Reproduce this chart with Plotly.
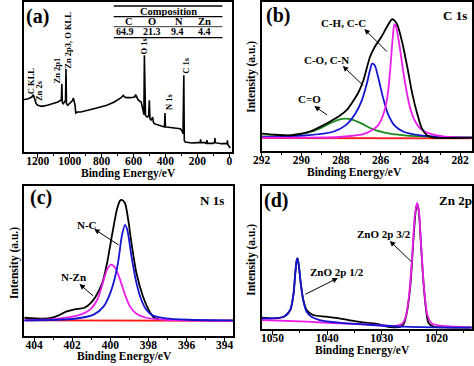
import plotly.graph_objects as go

W, H = 474, 366
FONT = "Liberation Serif"

# ---------------- Panel (a): survey spectrum ----------------
a_be = [1288, 1260, 1237, 1228, 1220, 1210, 1200, 1175, 1140, 1114, 1090, 1073, 1057,
        1052, 1049, 1046, 1040, 1032, 1026, 1023, 1020, 1012, 1000, 990, 981, 977, 972,
        966, 962, 950, 930, 880, 830, 767, 720, 680, 664, 655, 644, 620, 600, 593, 587,
        580, 572, 560, 552, 545, 540, 535, 532, 529, 525, 515, 511, 505, 501, 497, 491,
        485, 480, 476, 470, 440, 419, 406, 403, 400, 395, 358, 320, 307, 295, 290, 285,
        282, 276, 235, 200, 182, 180, 178, 153, 143, 140, 137, 100, 92, 90, 88, 51, 30,
        14, 12, 9, -6]
a_int = [157, 160, 165, 172, 160, 145, 140, 137, 140, 143, 148, 150, 155,
         156, 205, 148, 145, 150, 155, 250, 145, 140, 145, 150, 155, 162, 150,
         140, 117, 120, 120, 125, 132, 140, 150, 162, 170, 165, 163, 163, 165, 165, 172,
         162, 157, 152, 150, 135, 120, 112, 290, 110, 110, 105, 105, 110, 155, 100, 95,
         100, 105, 90, 85, 80, 77, 75, 117, 76, 75, 73, 72, 70, 62, 55, 230,
         35, 30, 27, 28, 28, 38, 28, 28, 26, 36, 26, 26, 30, 42, 28, 25, 24,
         25, 35, 22, 12]
a_ticks = [1200, 1000, 800, 600, 400, 200, 0]
a_peak_labels = ["C KLL", "Zn 2s", "Zn 2p1", "Zn 2p3, O KLL", "O 1s", "N 1s", "C 1s"]
comp_elements = ["C", "O", "N", "Zn"]
comp_values = ["64.9", "21.3", "9.4", "4.4"]

# ---------------- Panel (b): C 1s ----------------
b_raw_be = [292.0, 291.38, 290.56, 289.98, 289.49, 289.0, 288.59, 288.10, 287.69, 287.36,
            287.11, 286.87, 286.54, 286.30, 285.97, 285.64, 285.44, 285.31, 285.15, 284.90,
            284.66, 284.41, 284.16, 283.92, 283.67, 283.34, 282.36, 281.41]
b_raw_int = [52, 49, 47, 52, 60, 74, 87, 104, 124, 152, 177, 212, 282, 312, 342, 377,
             395, 392, 377, 322, 252, 172, 112, 67, 47, 40, 39, 40]
b_co_be = [292.0, 290.56, 289.74, 289.08, 288.59, 288.10, 287.77, 287.44, 286.95, 286.46,
           285.80, 284.82, 283.18, 281.41]
b_co_int = [44, 47, 54, 67, 82, 94, 97, 94, 82, 67, 55, 47, 42, 40]
b_con_be = [292.0, 289.74, 288.43, 287.77, 287.28, 286.95, 286.70, 286.54, 286.43, 286.30,
            286.13, 285.89, 285.64, 285.31, 284.82, 284.0, 282.85, 281.41]
b_con_int = [42, 47, 57, 77, 112, 152, 202, 242, 262, 257, 222, 162, 112, 77, 57, 47, 42, 40]
b_cc_be = [292.0, 288.10, 286.79, 286.13, 285.80, 285.64, 285.51, 285.39, 285.31, 285.23,
           285.07, 284.82, 284.57, 284.33, 284.0, 283.51, 282.85, 281.41]
b_cc_int = [40, 42, 52, 77, 122, 172, 252, 342, 380, 374, 322, 222, 142, 97, 67, 52, 44, 40]
b_bg_be = [292.0, 281.41]
b_bg_int = [39, 38]
b_ticks = [292, 290, 288, 286, 284, 282]

# ---------------- Panel (c): N 1s ----------------
c_raw_be = [404.51, 403.57, 403.06, 402.72, 402.38, 401.87, 401.36, 401.02, 400.76, 400.42,
            400.17, 400.0, 399.83, 399.66, 399.49, 399.40, 399.23, 399.06, 398.89, 398.63,
            398.29, 397.95, 397.70, 397.44]
c_raw_int = [55, 52, 55, 62, 72, 80, 85, 100, 120, 160, 220, 275, 330, 380, 408, 410,
             400, 350, 280, 190, 120, 75, 55, 50]
c_nc_be = [404.51, 401.87, 400.85, 400.34, 400.0, 399.74, 399.57, 399.40, 399.23, 399.11,
           398.89, 398.63, 398.38, 398.12, 397.78, 397.10, 395.91, 393.56]
c_nc_int = [47, 52, 65, 90, 130, 180, 230, 300, 335, 320, 240, 160, 110, 80, 62, 53, 49, 47]
c_nzn_be = [404.51, 402.72, 401.53, 401.02, 400.68, 400.42, 400.17, 399.96, 399.74, 399.49,
            399.23, 398.98, 398.63, 398.12, 397.10, 393.56]
c_nzn_int = [47, 52, 65, 82, 110, 155, 200, 215, 205, 170, 125, 90, 67, 55, 49, 46]
c_bg_be = [404.51, 393.56]
c_bg_int = [47, 46]
c_ticks = [404, 402, 400, 398, 396, 394]

# ---------------- Panel (d): Zn 2p ----------------
d_raw_be = [1051.96, 1049.70, 1047.92, 1046.73, 1046.14, 1045.84, 1045.54, 1045.42, 1045.19,
            1044.83, 1044.36, 1043.76, 1042.57, 1040.20, 1037.82, 1035.44, 1033.07, 1030.69,
            1029.50, 1027.72, 1026.53, 1025.94, 1025.34, 1024.75, 1024.27, 1023.86, 1023.56,
            1023.26, 1022.85, 1022.37, 1021.90, 1021.48, 1020.59, 1018.81, 1015.24, 1013.58]
d_raw_int = [34, 32, 37, 57, 107, 167, 209, 212, 192, 137, 87, 57, 42, 37, 32, 25, 19, 15,
             9, 5, 7, 17, 57, 137, 257, 347, 377, 357, 257, 137, 57, 19, 7, 5, 4, 5]
d_p12_be = [1051.96, 1047.92, 1046.73, 1046.14, 1045.84, 1045.54, 1045.42, 1045.19, 1044.83,
            1044.36, 1043.76, 1042.87, 1041.38, 1037.82, 1031.88, 1025.94, 1020.0, 1013.58]
d_p12_int = [32, 37, 59, 107, 165, 209, 212, 192, 137, 85, 52, 37, 27, 19, 12, 7, 5, 4]
d_p32_be = [1051.96, 1043.76, 1037.82, 1031.88, 1027.72, 1026.23, 1025.64, 1025.04, 1024.45,
            1023.98, 1023.56, 1023.20, 1022.79, 1022.25, 1021.66, 1020.89, 1018.81, 1013.58]
d_p32_int = [27, 22, 17, 13, 9, 17, 37, 97, 217, 337, 379, 352, 247, 117, 42, 17, 9, 5]
d_ticks = [1050, 1040, 1030, 1020]

BLACK = "#000000"
BLUE = "#1414d2"
MAGENTA = "#ec1cec"
GREEN = "#1c8a1c"
RED = "#ff1a1a"


def px(x, y):
    return x / W, 1 - y / H


fig = go.Figure()


def add_line(xs, ys, color, axis, width=1.8, shape="spline"):
    fig.add_trace(go.Scatter(x=xs, y=ys, mode="lines",
                             line=dict(color=color, width=width, shape=shape,
                                       smoothing=0.7 if shape == "spline" else None),
                             xaxis="x" + axis, yaxis="y" + axis, showlegend=False,
                             hoverinfo="skip"))


# panel a
add_line(a_be, a_int, BLACK, "", width=1.6, shape="linear")
# panel b
add_line(b_bg_be, b_bg_int, RED, "2")
add_line(b_co_be, b_co_int, GREEN, "2")
add_line(b_con_be, b_con_int, BLUE, "2")
add_line(b_cc_be, b_cc_int, MAGENTA, "2")
add_line(b_raw_be, b_raw_int, BLACK, "2")
# panel c
add_line(c_bg_be, c_bg_int, RED, "3")
add_line(c_raw_be, c_raw_int, BLACK, "3")
add_line(c_nzn_be, c_nzn_int, MAGENTA, "3")
add_line(c_nc_be, c_nc_int, BLUE, "3")
# panel d
add_line(d_raw_be, d_raw_int, BLACK, "4")
add_line(d_p32_be, d_p32_int, MAGENTA, "4")
add_line(d_p12_be, d_p12_int, BLUE, "4")

tickfont = dict(family=FONT, size=11.5, color="black", weight="bold")


def xaxis(dom, rng, ticks, minor, anchor):
    return dict(domain=dom, range=rng, tickvals=ticks, ticks="outside", ticklen=4,
                tickwidth=1.3, tickcolor="black", showline=True, linecolor="black",
                linewidth=1.5, mirror=True, showgrid=False, zeroline=False,
                tickfont=tickfont, anchor=anchor, ticklabelstandoff=-7,
                minor=dict(ticks="outside", ticklen=2.5, tickwidth=1, tickcolor="black",
                           dtick=minor, showgrid=False))


def yaxis(dom, rng, anchor):
    return dict(domain=dom, range=rng, showticklabels=False, ticks="", showline=True,
                linecolor="black", linewidth=1.5, mirror=True, showgrid=False,
                zeroline=False, anchor=anchor)


fig.update_layout(
    width=W, height=H, margin=dict(l=0, r=0, t=0, b=0),
    paper_bgcolor="white", plot_bgcolor="white",
    xaxis=xaxis([15 / W, 228 / W], [1288, -18], a_ticks, 100, "y"),
    yaxis=yaxis([1 - 152 / H, 1 - 2 / H], [0, 450], "x"),
    xaxis2=xaxis([258 / W, 473 / W], [292, 281.4], b_ticks, 1, "y2"),
    yaxis2=yaxis([1 - 151 / H, 1 - 2 / H], [0, 447], "x2"),
    xaxis3=xaxis([15 / W, 229 / W], [404.55, 393.55], c_ticks, 1, "y3"),
    yaxis3=yaxis([1 - 336 / H, 1 - 186 / H], [0, 452], "x3"),
    xaxis4=xaxis([258 / W, 473 / W], [1052, 1013.5], d_ticks, 5, "y4"),
    yaxis4=yaxis([1 - 329 / H, 1 - 186 / H], [0, 430], "x4"),
)

ann = []


def text(t, x, y, size, angle=0, bold=True):
    xx, yy = px(x, y)
    ann.append(dict(text=t, x=xx, y=yy, xref="paper", yref="paper", showarrow=False,
                    xanchor="center", yanchor="middle", textangle=angle,
                    font=dict(family=FONT, size=size, color="black",
                              weight="bold" if bold else "normal")))


def arrow(hx, hy, tx, ty):
    xx, yy = px(hx, hy)
    ann.append(dict(text="", x=xx, y=yy, xref="paper", yref="paper", showarrow=True,
                    ax=tx - hx, ay=ty - hy, axref="pixel", ayref="pixel",
                    arrowhead=2, arrowsize=1.1, arrowwidth=1, arrowcolor="black"))


# panel labels
text("(a)", 29, 16, 20)
text("(b)", 275, 15, 20)
text("(c)", 33, 197, 20)
text("(d)", 273, 200, 20)
text("C 1s", 456, 15, 13)
text("N 1s", 207, 200, 13)
text("Zn 2p", 456, 200, 13)

# axis titles
for x, y in [(122, 173), (353, 172.5), (118, 356.5), (361, 350.5)]:
    text("Binding Energy/eV", x, y, 11.5)
for x, y in [(247, 77), (5, 263), (247, 260)]:
    text("Intensity (a.u.)", x, y, 11.5, angle=-90)

# panel (a) peak labels
a_label_pos = [(22.7, 81), (30.7, 91), (49, 70.5), (60, 40), (138, 46.5), (163, 101.5), (180, 65.5)]
for lab, (x, y) in zip(a_peak_labels, a_label_pos):
    text(lab, x, y, 8.5, angle=-90)

# composition table
text("Composition", 163, 11, 10.5)
for el, xv in zip(comp_elements, [123, 146, 174, 200]):
    text(el, xv, 21.7, 10.5)
for v, xv in zip(comp_values, [118, 146, 172, 200]):
    text(v, xv, 32, 10)

shapes = []
for yv, w in [(6, 1.3), (16.7, 1.2), (26.7, 0.8), (37.7, 1.3)]:
    x0, y0 = px(107, yv)
    x1, _ = px(218, yv)
    shapes.append(dict(type="line", xref="paper", yref="paper", x0=x0, x1=x1, y0=y0, y1=y0,
                       line=dict(color="black", width=w)))

# panel (b) annotations
text("C-H, C-C", 342, 23, 11)
text("C-O, C-N", 324, 60, 11)
text("C=O", 307, 99, 11)
arrow(363, 29, 387, 53)
arrow(341, 66, 363, 87)
arrow(312, 106, 326, 116)

# panel (c) annotations
text("N-C", 80, 225, 11)
text("N-Zn", 66, 277, 11)
arrow(87, 229, 113, 246)
arrow(72, 284, 87, 297)

# panel (d) annotations
text("ZnO 2p 3/2", 383, 234, 11)
text("ZnO 2p 1/2", 335, 272, 11)
arrow(389, 241, 412, 263)
arrow(336, 278, 302, 295)

fig.update_layout(annotations=ann, shapes=shapes)
fig.write_html("out.html", config={"displayModeBar": False},
               post_script="document.body.style.margin='0';document.body.style.overflow='hidden';")
